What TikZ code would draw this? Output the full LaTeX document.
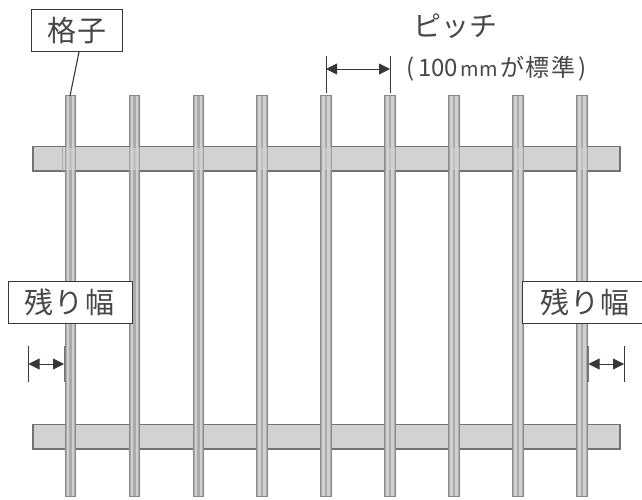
\documentclass[tikz,border=0pt]{standalone}
\usepackage{fontspec}
\newfontfamily\cjk{Noto Sans CJK JP}
\usetikzlibrary{arrows.meta}
\definecolor{edgeg}{HTML}{777272}
\definecolor{pedge}{HTML}{8C8888}
\definecolor{barg}{HTML}{D2D2D2}
\definecolor{pick}{HTML}{ABABAB}
\definecolor{pickl}{HTML}{D0D0D0}
\definecolor{ink}{HTML}{3A3536}
\definecolor{txt}{HTML}{4A4647}
\tikzset{
  x=1pt,y=-1pt,
  labelbox/.style={draw=ink,line width=1pt,fill=white,text=txt,inner sep=0pt,font=\cjk\fontsize{29}{29}\selectfont},
  plain/.style={text=txt,inner sep=0pt},
  dimline/.style={draw=ink,line width=0.9pt},
  dimarrow/.style={draw=ink,line width=0.9pt,{Triangle[length=11pt,width=11pt]}-{Triangle[length=11pt,width=11pt]}},
  railbar/.style={fill=barg,draw=edgeg,line width=1.3pt},
}
\newcommand{\picket}[3]{% centre, top, bottom
  \fill[pick] (#1-5.5,#2) rectangle (#1+5.5,#3);
  \fill[pickl] (#1-3.6,#2) rectangle (#1-1.4,#3);
  \fill[pickl] (#1+1.4,#2) rectangle (#1+3.6,#3);
  \draw[pedge,line width=0.7pt] (#1-5.2,#2) -- (#1-5.2,#3) (#1+5.2,#2) -- (#1+5.2,#3);
  \draw[pedge,line width=1pt] (#1-5.5,#2+0.5) -- (#1+5.5,#2+0.5);
  \draw[pedge,line width=1pt] (#1-5.5,#3-0.5) -- (#1+5.5,#3-0.5);
}
\begin{document}
\begin{tikzpicture}
\useasboundingbox (0,0) rectangle (642,500);
\fill[white] (0,0) rectangle (642,500);
% rails
\draw[railbar] (33,146.5) rectangle (620,171);
\draw[railbar] (33,424.5) rectangle (620,449);
% pickets
\foreach \cx in {70.5,134.5,198.5,262,326,390,454,518,582}{
  \picket{\cx}{95}{497}
  \fill[barg,opacity=0.6] (\cx-5.5,148) rectangle (\cx+5.5,170);
  \draw[pedge!80!white,line width=0.5pt] (\cx-5.2,147) -- (\cx-5.2,171) (\cx+5.2,147) -- (\cx+5.2,171);
}
\draw[edgeg!60!white,line width=0.6pt] (62.5,147) -- (62.5,171);
% coordinates
\coordinate (p1top) at (70,96);
\coordinate (pa) at (326,93);
\coordinate (pb) at (390,93);
\coordinate (pat) at (326,56);
\coordinate (pbt) at (390,56);
\coordinate (pam) at (326,69);
\coordinate (pbm) at (390,69);
\coordinate (la) at (28,346);
\coordinate (lat) at (28,382);
\coordinate (lb) at (64.5,346);
\coordinate (lbt) at (64.5,382);
\coordinate (lam) at (28.5,364);
\coordinate (lbm) at (64,364);
\coordinate (ra) at (588,346);
\coordinate (rat) at (588,382);
\coordinate (rb) at (624,346);
\coordinate (rbt) at (624,382);
\coordinate (ram) at (588.5,364);
\coordinate (rbm) at (624,364);
% labels
\node[labelbox,minimum width=91pt,minimum height=42pt] (kakushi) at (76.5,31) {\kern1.5pt 格\kern1pt 子};
\coordinate (k) at (79,52);
\draw[dimline,line width=1.1pt] (k) -- (p1top);
\node[labelbox,minimum width=124pt,minimum height=42pt] (zanL) at (70,302) {\kern-1pt 残\kern1.5pt り\kern1.5pt 幅};
\node[labelbox,minimum width=122pt,minimum height=42pt] (zanR) at (583.5,302) {\kern3pt 残\kern1.5pt り\kern1.5pt 幅};
\node[plain,font=\cjk\fontsize{28}{28}\selectfont] (pitch) at (455,26) {ピッチ};
\node[plain,font=\cjk\fontsize{24}{24}\selectfont] (std) at (496.5,69) {(\kern4pt 100{\fontsize{20}{20}\selectfont\kern2pt m\kern1pt m\kern2pt}が\kern1.5pt 標\kern2pt 準\kern3pt)};
% dimension lines
\draw[dimline] (pat) -- (pa);
\draw[dimline] (pbt) -- (pb);
\draw[dimarrow] (pam) -- (pbm);
\draw[dimline] (la) -- (lat);
\draw[edgeg,line width=1.4pt] (lb) -- (lbt);
\draw[dimarrow] (lam) -- (lbm);
\draw[edgeg,line width=1.4pt] (ra) -- (rat);
\draw[dimline] (rb) -- (rbt);
\draw[dimarrow] (ram) -- (rbm);
\end{tikzpicture}
\end{document}
